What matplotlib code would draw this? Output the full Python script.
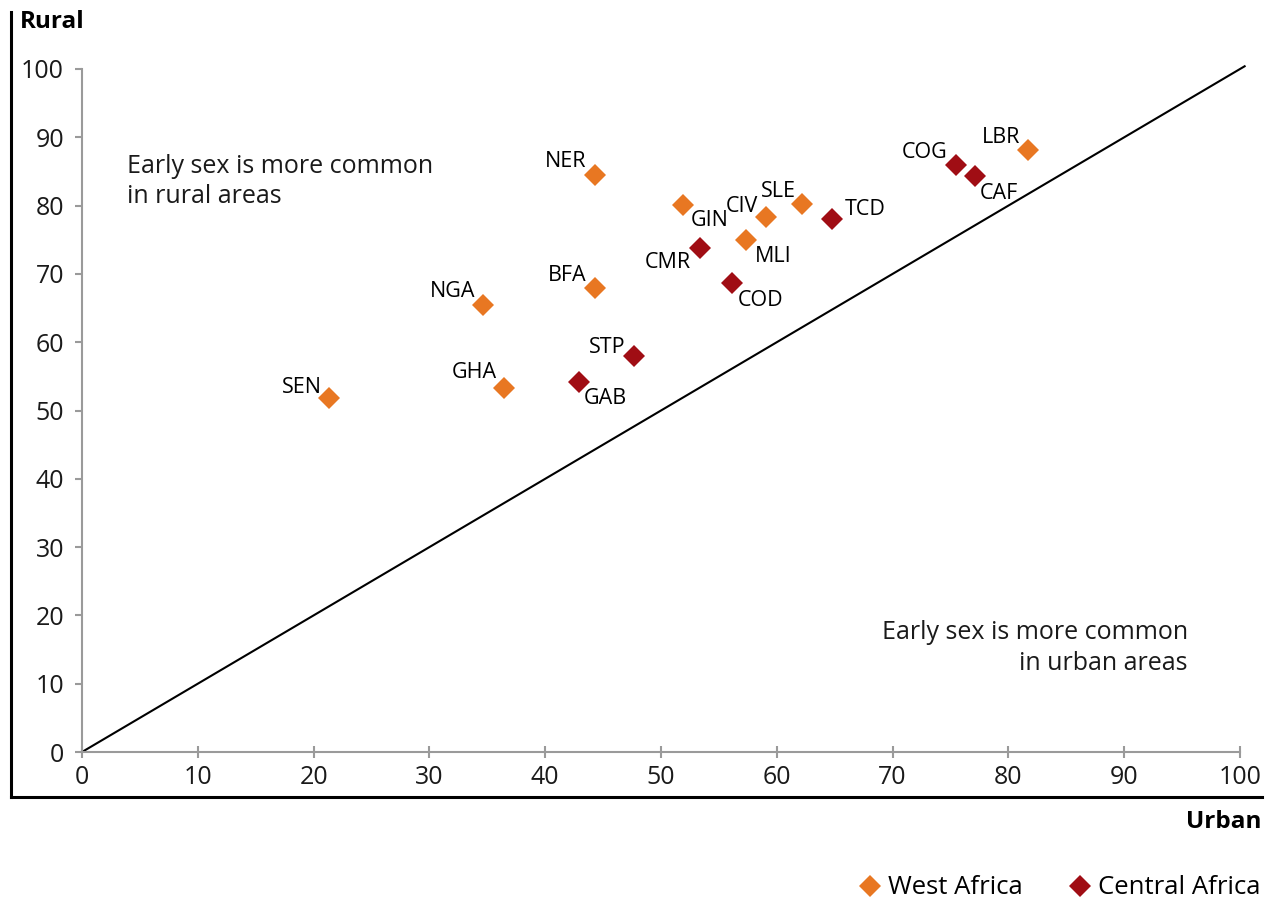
import matplotlib.pyplot as plt
from matplotlib.lines import Line2D

plt.rcParams["font.family"] = ["Open Sans", "DejaVu Sans"]

# Share of young people with early sex, urban vs rural (%)
west_codes = ["SEN", "NGA", "GHA", "BFA", "NER", "GIN", "CIV", "SLE", "MLI", "LBR"]
west_urban = [21.3, 34.6, 36.4, 44.3, 44.3, 51.9, 59.1, 62.2, 57.3, 81.7]
west_rural = [51.9, 65.4, 53.3, 68.0, 84.5, 80.1, 78.4, 80.2, 74.9, 88.1]

central_codes = ["STP", "GAB", "TCD", "CMR", "COD", "COG", "CAF"]
central_urban = [47.7, 42.9, 64.8, 53.4, 56.1, 75.5, 77.1]
central_rural = [58.0, 54.1, 78.1, 73.8, 68.7, 85.9, 84.4]

ticks = [0, 10, 20, 30, 40, 50, 60, 70, 80, 90, 100]

# label placement: offset in pixels, alignment
label_pos = {
    "SEN": (-7, 5, "right", "baseline"),
    "NGA": (-7, 8, "right", "baseline"),
    "GHA": (-7, 10, "right", "baseline"),
    "BFA": (-8, 7, "right", "baseline"),
    "STP": (-9, 3, "right", "baseline"),
    "GAB": (5, -6, "left", "top"),
    "NER": (-9, 8, "right", "baseline"),
    "GIN": (8, -5, "left", "top"),
    "CIV": (-8, 5, "right", "baseline"),
    "SLE": (-6, 7, "right", "baseline"),
    "TCD": (12, 4, "left", "baseline"),
    "CMR": (-9, -4, "right", "top"),
    "MLI": (9, -6, "left", "top"),
    "COD": (6, -7, "left", "top"),
    "COG": (-9, 7, "right", "baseline"),
    "CAF": (5, -7, "left", "top"),
    "LBR": (-8, 7, "right", "baseline"),
}

orange = "#E87722"
darkred = "#A00D14"
grey = "#9a9a9a"
txt = "#1a1a1a"

fig = plt.figure(figsize=(12.73, 9), dpi=100)
ax = fig.add_axes([82 / 1273, 1 - 752 / 900, (1240 - 82) / 1273, (752 - 69) / 900])

ax.plot([0, 100.4], [0, 100.4], color="black", lw=1.5, clip_on=False, zorder=1)

ax.plot(west_urban, west_rural, "D", color=orange, ms=11.5, mew=0,
        clip_on=False, zorder=3, label="West Africa")
ax.plot(central_urban, central_rural, "D", color=darkred, ms=11.5, mew=0,
        clip_on=False, zorder=3, label="Central Africa")

for codes, xs, ys in [(west_codes, west_urban, west_rural),
                      (central_codes, central_urban, central_rural)]:
    for c, x, y in zip(codes, xs, ys):
        dx, dy, ha, va = label_pos[c]
        ax.annotate(c, (x, y), xytext=(dx * 0.72, dy * 0.72), textcoords="offset points",
                    ha=ha, va=va, fontsize=15.5, color="black")

ax.text(3.9, 87.6, "Early sex is more common\nin rural areas", ha="left", va="top",
        fontsize=18, color=txt, linespacing=1.3)
ax.text(95.5, 19.3, "Early sex is more common\nin urban areas", ha="right", va="top",
        fontsize=18, color=txt, linespacing=1.3, multialignment="right")

ax.set_xlim(0, 100)
ax.set_ylim(0, 100)
ax.set_xticks(ticks)
ax.set_yticks(ticks)
for s in ["top", "right"]:
    ax.spines[s].set_visible(False)
for s in ["left", "bottom"]:
    ax.spines[s].set_color(grey)
    ax.spines[s].set_linewidth(1.5)
ax.tick_params(axis="y", direction="out", length=5, width=1.5, color=grey, pad=8,
               labelsize=18, labelcolor=txt)
ax.tick_params(axis="x", direction="inout", length=9, width=1.5, color=grey, pad=5,
               labelsize=18, labelcolor=txt)
ax.set_facecolor("none")

# outer frame lines
fig.add_artist(Line2D([11 / 1273, 11 / 1273], [1 - 12 / 900, 1 - 797 / 900],
                      color="black", lw=2.2, solid_capstyle="projecting"))
fig.add_artist(Line2D([11 / 1273, 1262 / 1273], [1 - 797 / 900, 1 - 797 / 900],
                      color="black", lw=2.2, solid_capstyle="projecting"))

fig.text(20 / 1273, 1 - 22 / 900, "Rural", ha="left", va="center",
         fontsize=17.5, fontweight="bold")
fig.text(1262 / 1273, 1 - 822 / 900, "Urban", ha="right", va="center",
         fontsize=17.5, fontweight="bold")

fig.legend(loc="center right", bbox_to_anchor=(1260 / 1273, 1 - 888 / 900), ncol=2,
           frameon=False, handlelength=0.8, handletextpad=0.3,
           columnspacing=1.8, borderpad=0, borderaxespad=0,
           prop={"size": 18.5})

fig.savefig("out.png", dpi=100)
